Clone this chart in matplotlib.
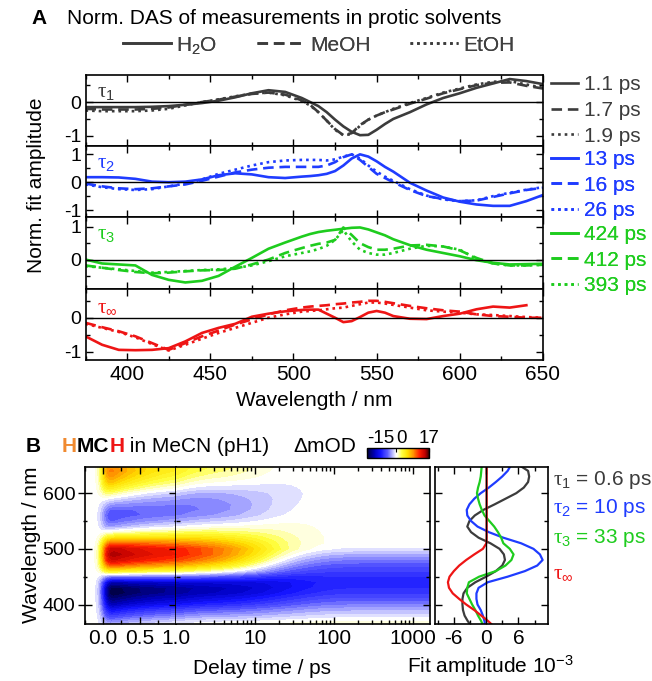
import math
import numpy as np
import matplotlib
matplotlib.use('Agg')
import matplotlib.pyplot as plt
from matplotlib.colors import LinearSegmentedColormap, Normalize
from matplotlib.lines import Line2D
from matplotlib.ticker import MultipleLocator, LogLocator, NullFormatter

plt.rcParams['font.family'] = ['Liberation Sans', 'DejaVu Sans']
plt.rcParams['font.size'] = 15
plt.rcParams['axes.unicode_minus'] = False
plt.rcParams['mathtext.fontset'] = 'custom'
plt.rcParams['mathtext.rm'] = 'Liberation Sans'
plt.rcParams['mathtext.it'] = 'Liberation Serif'
plt.rcParams['mathtext.bf'] = 'Liberation Sans:bold'

GRAY = '#3c3c3c'
BLUE = '#1f3cff'
GREEN = '#1ecc1e'
RED = '#ee1515'
ORANGE = '#f08a30'

# ---------------- panel A data (normalised DAS, protic solvents) ----------------
wl_a = [375, 385, 395, 405, 415, 425, 435, 445, 455, 465, 475, 485, 495,
        505, 510, 515, 520, 525, 530, 535, 540, 545, 550, 555, 560,
        570, 580, 590, 600, 610, 620, 630, 640, 650]

tau1_h2o = [-0.15, -0.15, -0.15, -0.15, -0.14, -0.12, -0.08, -0.03, 0.04, 0.14, 0.26, 0.35, 0.30,
            0.12, 0.0, -0.12, -0.30, -0.52, -0.72, -0.88, -0.98, -0.97, -0.82, -0.65, -0.50,
            -0.30, -0.07, 0.12, 0.26, 0.42, 0.55, 0.68, 0.62, 0.53]
tau1_meoh = [-0.20, -0.22, -0.22, -0.22, -0.20, -0.16, -0.08, 0.0, 0.07, 0.16, 0.24, 0.28, 0.22,
             0.05, -0.08, -0.30, -0.55, -0.80, -0.98, -0.92, -0.68, -0.52, -0.40, -0.30, -0.22,
             -0.05, 0.10, 0.26, 0.38, 0.50, 0.57, 0.58, 0.48, 0.40]
tau1_etoh = [-0.25, -0.27, -0.27, -0.27, -0.25, -0.20, -0.10, 0.0, 0.08, 0.17, 0.25, 0.28, 0.20,
             0.03, -0.10, -0.30, -0.55, -0.82, -0.98, -0.95, -0.70, -0.52, -0.40, -0.30, -0.20,
             -0.03, 0.12, 0.28, 0.40, 0.52, 0.60, 0.62, 0.52, 0.42]

tau2_h2o = [0.18, 0.18, 0.17, 0.12, 0.02, 0.0, 0.02, 0.10, 0.25, 0.32, 0.28, 0.18, 0.15,
            0.20, 0.22, 0.25, 0.30, 0.40, 0.60, 0.85, 1.0, 0.92, 0.75, 0.55, 0.38,
            -0.02, -0.30, -0.55, -0.70, -0.80, -0.85, -0.85, -0.68, -0.46]
tau2_meoh = [-0.05, -0.15, -0.22, -0.25, -0.22, -0.15, -0.08, 0.05, 0.20, 0.35, 0.45, 0.52, 0.55,
             0.55, 0.55, 0.55, 0.60, 0.72, 0.90, 1.0, 0.80, 0.55, 0.30, 0.15, 0.0,
             -0.28, -0.50, -0.60, -0.68, -0.66, -0.53, -0.40, -0.28, -0.20]
tau2_etoh = [-0.08, -0.18, -0.25, -0.28, -0.25, -0.15, -0.05, 0.10, 0.30, 0.45, 0.60, 0.72, 0.78,
             0.80, 0.80, 0.80, 0.78, 0.82, 0.92, 1.0, 0.85, 0.60, 0.38, 0.20, 0.05,
             -0.25, -0.48, -0.62, -0.68, -0.65, -0.50, -0.38, -0.27, -0.18]

tau3_h2o = [0.0, -0.12, -0.15, -0.18, -0.47, -0.62, -0.70, -0.65, -0.50, -0.22, 0.05, 0.33, 0.52,
            0.70, 0.78, 0.84, 0.88, 0.91, 0.94, 0.97, 0.98, 0.92, 0.83, 0.74, 0.62,
            0.44, 0.30, 0.20, 0.10, -0.02, -0.10, -0.15, -0.14, -0.13]
tau3_meoh = [-0.18, -0.25, -0.32, -0.38, -0.42, -0.40, -0.36, -0.33, -0.32, -0.28, -0.15, 0.0, 0.20,
             0.35, 0.42, 0.48, 0.52, 0.60, 0.98, 0.75, 0.50, 0.38, 0.30, 0.30, 0.33,
             0.43, 0.45, 0.40, 0.28, 0.05, -0.12, -0.18, -0.18, -0.16]
tau3_etoh = [-0.20, -0.25, -0.30, -0.35, -0.40, -0.38, -0.35, -0.32, -0.30, -0.26, -0.18, -0.05, 0.10,
             0.20, 0.25, 0.32, 0.42, 0.60, 0.90, 0.55, 0.30, 0.20, 0.15, 0.15, 0.20,
             0.33, 0.42, 0.40, 0.30, 0.02, -0.12, -0.18, -0.18, -0.16]

tauinf_h2o = [-0.55, -0.80, -0.95, -0.96, -0.95, -0.90, -0.70, -0.45, -0.30, -0.18, 0.03, 0.12, 0.19,
              0.23, 0.24, 0.24, 0.12, 0.0, -0.13, -0.10, 0.02, 0.15, 0.20, 0.15, 0.05,
              -0.03, -0.04, 0.05, 0.12, 0.25, 0.33, 0.30, 0.37, float('nan')]
tauinf_meoh = [-0.15, -0.28, -0.40, -0.55, -0.75, -0.95, -0.75, -0.55, -0.38, -0.20, -0.05, 0.10, 0.22,
               0.30, 0.33, 0.35, 0.37, 0.40, 0.42, 0.45, 0.47, 0.50, 0.50, 0.47, 0.43,
               0.35, 0.28, 0.22, 0.18, 0.10, 0.05, 0.03, 0.0, 0.0]
tauinf_etoh = [-0.18, -0.30, -0.42, -0.58, -0.78, -0.97, -0.80, -0.62, -0.45, -0.30, -0.15, 0.0, 0.10,
               0.18, 0.20, 0.22, 0.25, 0.28, 0.30, 0.35, 0.40, 0.45, 0.45, 0.42, 0.38,
               0.30, 0.22, 0.18, 0.15, 0.10, 0.08, 0.05, 0.02, 0.0]

lifetimes_a = [['1.1 ps', '1.7 ps', '1.9 ps'],
               ['13 ps', '16 ps', '26 ps'],
               ['424 ps', '412 ps', '393 ps'],
               None]

# ---------------- panel B data (HMCH in MeCN, pH1) ----------------
wl_b = [360, 370, 380, 390, 400, 410, 420, 430, 440, 450, 460, 470, 480, 490, 500,
        510, 520, 530, 540, 550, 560, 570, 580, 590, 600, 610, 620, 630, 640, 650]
das1 = [-2.6, -3.4, -4.0, -4.3, -4.4, -4.4, -4.2, -3.5, -2.0, 0.0, 1.8, 3.0, 3.5, 3.3, 2.5,
        0.8, -1.4, -2.8, -3.5, -3.1, -2.1, -0.5, 1.6, 3.6, 5.6, 7.0, 7.8, 8.0, 7.8, 6.2]
das2 = [-0.2, -0.3, -0.6, -1.0, -1.6, -1.8, -1.8, -1.4, 0.3, 4.0, 7.2, 9.5, 10.5, 10.0, 8.8,
        6.5, 3.2, 0.5, -1.6, -2.8, -3.5, -3.6, -3.1, -2.2, -1.0, 0.5, 1.8, 3.0, 4.0, 4.6]
das3 = [-0.5, -0.9, -1.5, -2.0, -2.6, -3.1, -3.6, -3.5, -3.2, -1.3, 1.8, 3.6, 4.7, 5.1, 4.4,
        3.2, 2.8, 2.2, 1.5, 0.6, -0.3, -0.8, -1.2, -1.5, -1.7, -1.5, -1.2, -1.0, -0.9, -0.8]
das_inf = [1.5, 0.4, -0.9, -2.2, -3.7, -5.0, -6.2, -6.9, -7.1, -6.8, -6.0, -5.0, -3.7, -2.2, -0.6,
           0.05, 0.1, 0.1, 0.1, 0.1, 0.1, 0.1, 0.1, 0.1, 0.1, 0.1, 0.1, 0.1, 0.1, 0.1]
taus_b = [0.6, 10.0, 33.0]
irf_sigma = 0.06  # ps

# ---------------- figure ----------------
W, H = 652, 681
fig = plt.figure(figsize=(W / 100, H / 100), dpi=100)


def box(x0, y0, x1, y1):
    return [x0 / W, 1 - y1 / H, (x1 - x0) / W, (y1 - y0) / H]


edges = [75, 146, 217, 289, 360]
ylims = [(-1.3, 0.8), (-1.25, 1.3), (-0.9, 1.3), (-1.25, 0.85)]
yticks = [[-1, 0], [-1, 0, 1], [0, 1], [-1, 0]]
colors = [GRAY, BLUE, GREEN, RED]
names = [r'$\tau_1$', r'$\tau_2$', r'$\tau_3$', r'$\tau_\infty$']
data_a = [[tau1_h2o, tau1_meoh, tau1_etoh],
          [tau2_h2o, tau2_meoh, tau2_etoh],
          [tau3_h2o, tau3_meoh, tau3_etoh],
          [tauinf_h2o, tauinf_meoh, tauinf_etoh]]
styles = ['-', (0, (4, 2.2)), (0, (1, 1.5))]
leg_y = [0.5, 0.45, 0.4]

axes_a = []
for i in range(4):
    ax = fig.add_axes(box(85.5, edges[i], 543, edges[i + 1]))
    lines = []
    for j in range(3):
        ln, = ax.plot(wl_a, data_a[i][j], color=colors[i], ls=styles[j], lw=1.9)
        lines.append(ln)
    ax.axhline(0, color='k', lw=1)
    ax.set_xlim(375, 650)
    ax.set_ylim(*ylims[i])
    ax.set_yticks(yticks[i])
    ax.yaxis.set_minor_locator(MultipleLocator(0.5))
    ax.xaxis.set_major_locator(MultipleLocator(50))
    ax.xaxis.set_minor_locator(MultipleLocator(25))
    ax.tick_params(which='both', direction='in', top=True, right=True, width=1)
    ax.tick_params(which='major', length=5)
    ax.tick_params(which='minor', length=3)
    ax.tick_params(axis='y', labelsize=14, pad=3)
    for s in ax.spines.values():
        s.set_linewidth(1.2)
    if i < 3:
        ax.tick_params(labelbottom=False)
    ax.text(0.025, 0.76, names[i], color=colors[i], transform=ax.transAxes,
            ha='left', va='center', fontsize=15)
    if lifetimes_a[i] is not None:
        leg = ax.legend(lines, lifetimes_a[i], loc='center left', bbox_to_anchor=(1.0, leg_y[i]),
                        frameon=False, labelcolor='linecolor', handlelength=1.3,
                        handletextpad=0.25, labelspacing=0.32, borderaxespad=0.2, borderpad=0.2)
        ax.add_artist(leg)
    axes_a.append(ax)

axes_a[3].set_xlabel('Wavelength / nm', labelpad=5)
fig.text(37 / W, 1 - 185 / H, 'Norm. fit amplitude', rotation=90, ha='center', va='center')

proxies = [Line2D([], [], color=GRAY, ls=s, lw=1.9) for s in styles]
top_leg = axes_a[0].legend(proxies, ['H$_2$O', 'MeOH', 'EtOH'], loc='center', ncol=3,
                           bbox_to_anchor=(0.51, 1.42), frameon=False, handlelength=2.3,
                           handletextpad=0.25, columnspacing=1.9, labelcolor='#404040')
axes_a[0].add_artist(top_leg)

fig.text(31 / W, 1 - 18 / H, 'A', weight='bold', va='center', ha='left')
fig.text(67 / W, 1 - 18 / H, 'Norm. DAS of measurements in protic solvents', va='center', ha='left')

# ---------------- panel B ----------------
wl_arr = np.array(wl_b, dtype=float)
das_list = [np.array(das1), np.array(das2), np.array(das3)]
das_const = np.array(das_inf)
erf = np.vectorize(math.erf)


def build_map(t):
    irf = 0.5 * (1 + erf(t / (math.sqrt(2) * irf_sigma)))
    tp = np.clip(t, 0, None)
    m = das_const[:, None] * irf[None, :]
    for das, tau in zip(das_list, taus_b):
        m = m + das[:, None] * np.exp(-tp / tau)[None, :] * irf[None, :]
    return m


cmap = LinearSegmentedColormap.from_list('dmod', [
    (0.0, '#000038'), (4 / 32, '#0000c0'), (7 / 32, '#1414ff'), (10.5 / 32, '#5a5aff'),
    (13 / 32, '#b4b4ff'), (14.5 / 32, '#ececff'), (15 / 32, '#ffffff'), (16 / 32, '#ffffd8'),
    (18 / 32, '#ffff40'), (21 / 32, '#ffe000'), (24 / 32, '#ff9000'), (27 / 32, '#ff2000'),
    (30 / 32, '#c00000'), (1.0, '#400000')])
cmap.set_under('#000020')
cmap.set_over('#200000')
levels = np.arange(-15.6, 17.3, 0.8)
norm = Normalize(-15, 17)

t_lin = np.linspace(-0.25, 1.0, 126)
t_log = np.logspace(0, np.log10(1650), 220)

ax_lin = fig.add_axes(box(85, 467, 176, 624))
ax_log = fig.add_axes(box(176, 467, 430, 624))
ax_lin.contourf(t_lin, wl_arr, build_map(t_lin), levels=levels, cmap=cmap, norm=norm, extend='both')
ax_log.contourf(t_log, wl_arr, build_map(t_log), levels=levels, cmap=cmap, norm=norm, extend='both')

for ax in (ax_lin, ax_log):
    ax.set_ylim(365, 647)
    ax.yaxis.set_major_locator(MultipleLocator(100))
    ax.yaxis.set_minor_locator(MultipleLocator(50))
    ax.tick_params(which='both', direction='in', top=True, right=True, width=1)
    ax.tick_params(which='major', length=5)
    ax.tick_params(which='minor', length=3)
    for s in ax.spines.values():
        s.set_linewidth(1.2)

ax_lin.set_xlim(-0.25, 1.0)
ax_lin.set_xticks([0, 0.5, 1.0])
ax_lin.set_xticklabels(['0.0', '0.5', '1.0'])
ax_lin.xaxis.set_minor_locator(MultipleLocator(0.25))
ax_lin.tick_params(axis='y', which='both', direction='inout', right=True)
ax_lin.tick_params(axis='y', which='major', length=10, labelsize=14, pad=2)
fig.text(32 / W, 1 - 545 / H, 'Wavelength / nm', rotation=90, ha='center', va='center')

ax_log.set_xscale('log')
ax_log.set_xlim(1, 1650)
ax_log.set_xticks([10, 100, 1000])
ax_log.set_xticklabels(['10', '100', '1000'])
ax_log.xaxis.set_minor_locator(LogLocator(base=10, subs=np.arange(2, 10)))
ax_log.xaxis.set_minor_formatter(NullFormatter())
ax_log.spines['left'].set_visible(False)
ax_log.tick_params(axis='y', left=False, labelleft=False)

fig.text(262 / W, 1 - 668 / H, 'Delay time / ps', ha='center', va='center')

# DAS panel
ax_d = fig.add_axes(box(435, 467, 548, 624))
for das, c in zip([das1, das2, das3, das_inf], [GRAY, BLUE, GREEN, RED]):
    ax_d.plot(das, wl_b, color=c, lw=1.6)
ax_d.axvline(0, color='k', lw=1)
ax_d.set_xlim(-9.5, 11.5)
ax_d.set_ylim(365, 647)
ax_d.set_xticks([-6, 0, 6])
ax_d.xaxis.set_minor_locator(MultipleLocator(3))
ax_d.yaxis.set_major_locator(MultipleLocator(100))
ax_d.yaxis.set_minor_locator(MultipleLocator(50))
ax_d.tick_params(which='both', direction='in', top=True, right=True, width=1, labelleft=False)
ax_d.tick_params(which='major', length=5)
ax_d.tick_params(which='minor', length=3)
for s in ax_d.spines.values():
    s.set_linewidth(1.2)
fig.text(490 / W, 1 - 666 / H, 'Fit amplitude 10$^{-3}$', ha='center', va='center')

labels_b = [(r'$\tau_1$ = 0.6 ps', GRAY, 0.917), (r'$\tau_2$ = 10 ps', BLUE, 0.739),
            (r'$\tau_3$ = 33 ps', GREEN, 0.548), (r'$\tau_\infty$', RED, 0.325)]
for txt, c, yy in labels_b:
    ax_d.text(1.04, yy, txt, color=c, transform=ax_d.transAxes, ha='left', va='center')

# colour bar
cax = fig.add_axes(box(367, 448, 429, 458))
cb = fig.colorbar(plt.cm.ScalarMappable(norm=norm, cmap=cmap), cax=cax,
                  orientation='horizontal', ticks=[-15, 0, 17])
cax.xaxis.set_ticks_position('top')
cax.tick_params(direction='in', length=3, pad=1, labelsize=13.5)
cb_labels = cax.get_xticklabels()
cb_labels[0].set_horizontalalignment('left')
cb_labels[1].set_horizontalalignment('left')
cb.outline.set_linewidth(1)

# panel B title
ov = fig.add_axes([0, 0, 1, 1])
ov.set_axis_off()
fig.text(26 / W, 1 - 446 / H, 'B', weight='bold', va='center', ha='left')
p1 = ov.text(62 / W, 1 - 446 / H, 'H', color=ORANGE, weight='bold', va='center', ha='left',
             transform=ov.transAxes)
p2 = ov.annotate('MC', xy=(1, 0), xycoords=p1, va='bottom', ha='left', weight='bold')
p3 = ov.annotate('H', xy=(1, 0), xycoords=p2, va='bottom', ha='left', weight='bold', color=RED)
p4 = ov.annotate(' in MeCN (pH1)', xy=(1, 0), xycoords=p3, va='bottom', ha='left')
fig.text(293 / W, 1 - 447 / H, '\u0394mOD', va='center', ha='left')

fig.savefig('out.png', dpi=100)
